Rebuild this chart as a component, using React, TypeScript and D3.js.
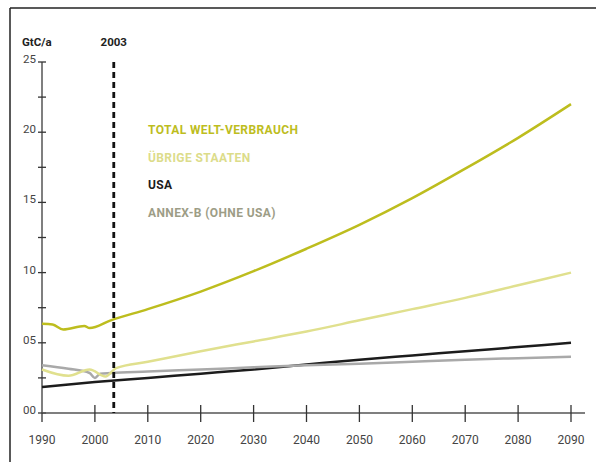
import React from "react";
import * as d3 from "d3";

const W = 596;
const H = 462;

const totalYears = [1990, 1992, 1994, 1998, 1999, 2003, 2010, 2020, 2030, 2040, 2050, 2060, 2070, 2080, 2090];
const totalValues = [6.35, 6.3, 5.95, 6.2, 6.05, 6.6, 7.4, 8.65, 10.1, 11.7, 13.4, 15.3, 17.4, 19.6, 22.0];

const otherYears = [1990, 1995, 1999, 2002, 2004, 2010, 2020, 2030, 2040, 2050, 2060, 2070, 2080, 2090];
const otherValues = [3.1, 2.65, 3.1, 2.6, 3.2, 3.65, 4.4, 5.1, 5.8, 6.6, 7.4, 8.2, 9.1, 10.0];

const usaYears = [1990, 2000, 2010, 2020, 2030, 2040, 2050, 2060, 2070, 2080, 2090];
const usaValues = [1.85, 2.2, 2.5, 2.8, 3.1, 3.45, 3.8, 4.1, 4.4, 4.7, 5.0];

const annexYears = [1990, 1995, 1999, 2000, 2001, 2003, 2010, 2020, 2030, 2040, 2050, 2060, 2070, 2080, 2090];
const annexValues = [3.4, 3.15, 2.85, 2.5, 2.8, 2.85, 2.95, 3.1, 3.25, 3.4, 3.5, 3.65, 3.8, 3.9, 4.0];

const xTicks = [1990, 2000, 2010, 2020, 2030, 2040, 2050, 2060, 2070, 2080, 2090];
const yTicks = [0, 5, 10, 15, 20, 25];
const yTickLabels = ["00", "05", "10", "15", "20", "25"];
const yMinorTicks = [2.5, 7.5, 12.5, 17.5, 22.5];

const markerYear = 2003;
const yUnit = "GtC/a";

const legendLabels = ["TOTAL WELT-VERBRAUCH", "ÜBRIGE STAATEN", "USA", "ANNEX-B (OHNE USA)"];
const lineColors = ["#bdbd1e", "#e0e08e", "#1c1c1c", "#a9a9a9"];
const legendColors = ["#bdbd1e", "#dcdc8a", "#1c1c1c", "#9d9d86"];

export default function App() {
  const x = d3.scaleLinear().domain([1990, 2090]).range([42, 571]);
  const y = d3.scaleLinear().domain([0, 25]).range([413, 62]);
  const line = d3
    .line<[number, number]>()
    .x((d) => x(d[0]))
    .y((d) => y(d[1]))
    .curve(d3.curveMonotoneX);

  const series = [
    { years: totalYears, values: totalValues },
    { years: otherYears, values: otherValues },
    { years: usaYears, values: usaValues },
    { years: annexYears, values: annexValues },
  ];
  const drawOrder = [2, 3, 1, 0];
  const font = "Roboto, 'DejaVu Sans', sans-serif";

  return (
    <svg width={W} height={H} style={{ position: "absolute", left: 0, top: 0, background: "#fff" }}>
      {/* frame */}
      <line x1={10} y1={8} x2={W} y2={8} stroke="#222" strokeWidth={1.5} />
      <line x1={10} y1={8} x2={10} y2={H} stroke="#222" strokeWidth={1.5} />

      {/* y axis */}
      <line x1={x(1990)} y1={y(25)} x2={x(1990)} y2={y(0)} stroke="#555" strokeWidth={1.5} />
      {[...yTicks, ...yMinorTicks].map((t) => (
        <line key={"yt" + t} x1={x(1990) - 4} x2={x(1990) + 4} y1={y(t)} y2={y(t)} stroke="#333" strokeWidth={1.3} />
      ))}
      {yTicks.map((t, i) => (
        <text key={"yl" + t} x={x(1990) - 6} y={y(t) + 1} textAnchor="end" fontFamily={font} fontSize={11.5} fill="#444">
          {yTickLabels[i]}
        </text>
      ))}

      {/* x axis */}
      <line x1={x(1990)} y1={y(0)} x2={585} y2={y(0)} stroke="#555" strokeWidth={1.5} />
      {xTicks.map((t) => (
        <line key={"xt" + t} x1={x(t)} x2={x(t)} y1={t === 1990 ? y(0) : y(0) - 8} y2={y(0) + 9} stroke="#333" strokeWidth={1.3} />
      ))}
      {xTicks.map((t) => (
        <text key={"xl" + t} x={x(t)} y={444} textAnchor="middle" fontFamily={font} fontSize={12} fill="#444">
          {t}
        </text>
      ))}

      {/* unit and marker labels */}
      <text x={22} y={46} fontFamily={font} fontSize={11.5} fontWeight="bold" fill="#222">
        {yUnit}
      </text>
      <text x={x(markerYear) + 3} y={46} textAnchor="middle" fontFamily={font} fontSize={11.5} fontWeight="bold" fill="#222">
        {markerYear}
      </text>

      {/* series */}
      {drawOrder.map((i) => {
        const s = series[i];
        const pts = s.years.map((yr, k) => [yr, s.values[k]] as [number, number]);
        return <path key={"s" + i} d={line(pts) || ""} fill="none" stroke={lineColors[i]} strokeWidth={2.5} />;
      })}

      {/* 2003 marker */}
      <line
        x1={x(markerYear) + 3}
        x2={x(markerYear) + 3}
        y1={y(25)}
        y2={y(0)}
        stroke="#111"
        strokeWidth={2.8}
        strokeDasharray="6,4"
      />

      {/* legend */}
      {legendLabels.map((l, i) => (
        <text
          key={"lg" + i}
          x={148}
          y={134 + i * 27.7}
          fontFamily={font}
          fontSize={12}
          fontWeight="bold"
          letterSpacing={0.4}
          fill={legendColors[i]}
        >
          {l}
        </text>
      ))}
    </svg>
  );
}
